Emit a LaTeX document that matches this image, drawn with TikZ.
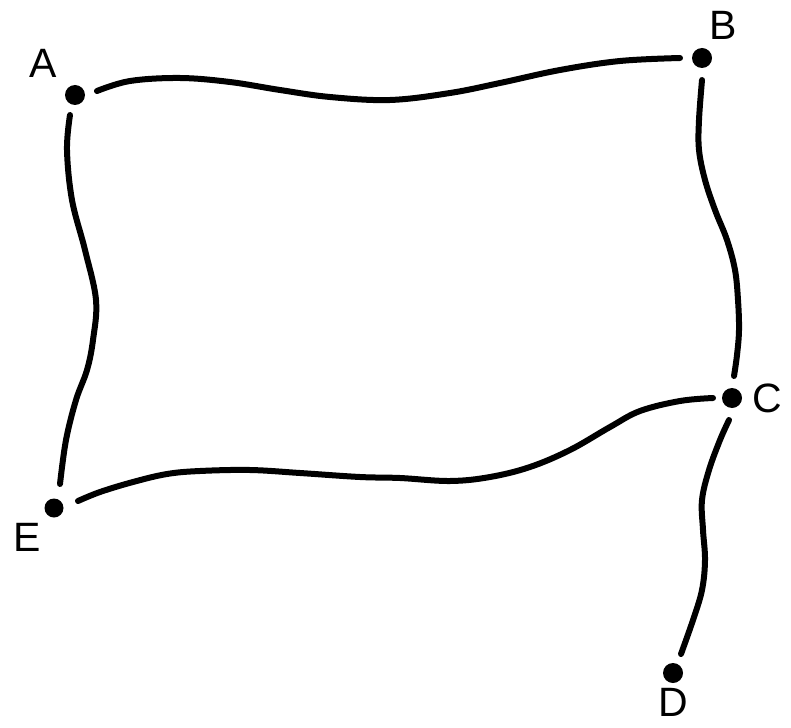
\documentclass[tikz,border=0pt]{standalone}
\usepackage{fontspec}
\setmainfont{Liberation Sans}
\begin{document}
\begin{tikzpicture}[x=1pt,y=-1pt,
  dot/.style={circle,fill=black,inner sep=0pt,minimum size=20pt},
  lab/.style={inner sep=0pt,font=\fontsize{41}{48}\selectfont},
  edge/.style={line width=6pt,line cap=round,line join=round}]
\useasboundingbox (0,0) rectangle (791,727);
% points
\node[dot] (A) at (75,95) {};
\node[dot] (B) at (702,58) {};
\node[dot] (C) at (732,398) {};
\node[dot] (D) at (673,673) {};
\node[dot,minimum size=19pt] (E) at (54,508) {};
% labels
\node[lab] (lA) at (43,63) {A};
\node[lab] (lB) at (723,25) {B};
\node[lab] (lC) at (767,398) {C};
\node[lab] (lD) at (673,702) {D};
\node[lab] (lE) at (27,537) {E};
% connectors
\draw[edge] plot[smooth,tension=0.6] coordinates {([shift={(22,-4)}]A.center) (130,81) (180,78) (230,82) (280,90) (330,97) (390,100) (450,93) (500,83) (560,70) (620,61) ([shift={(-22,0)}]B.center)};
\draw[edge] plot[smooth,tension=0.6] coordinates {([shift={(-5,20)}]A.center) (67,150) (72,200) (85,250) (96,300) (93,340) (87,370) (76,400) (66,440) ([shift={(6,-24)}]E.center)};
\draw[edge] plot[smooth,tension=0.6] coordinates {([shift={(0,22)}]B.center) (699,120) (699,150) (705,180) (715,210) (727,240) (735,270) (738,300) (739,330) (737,355) ([shift={(2,-22)}]C.center)};
\draw[edge] plot[smooth,tension=0.6] coordinates {([shift={(24,-7)}]E.center) (100,492) (133,482) (167,474) (200,471) (250,470) (300,473) (360,477) (400,478) (450,481) (490,477) (530,467) (570,450) (610,427) (640,411) (680,401) ([shift={(-19,0)}]C.center)};
\draw[edge] plot[smooth,tension=0.6] coordinates {([shift={(-3,22)}]C.center) (720,440) (709,470) (702,500) (703,530) (705,560) (702,590) (693,620) ([shift={(8,-19)}]D.center)};
\end{tikzpicture}
\end{document}
